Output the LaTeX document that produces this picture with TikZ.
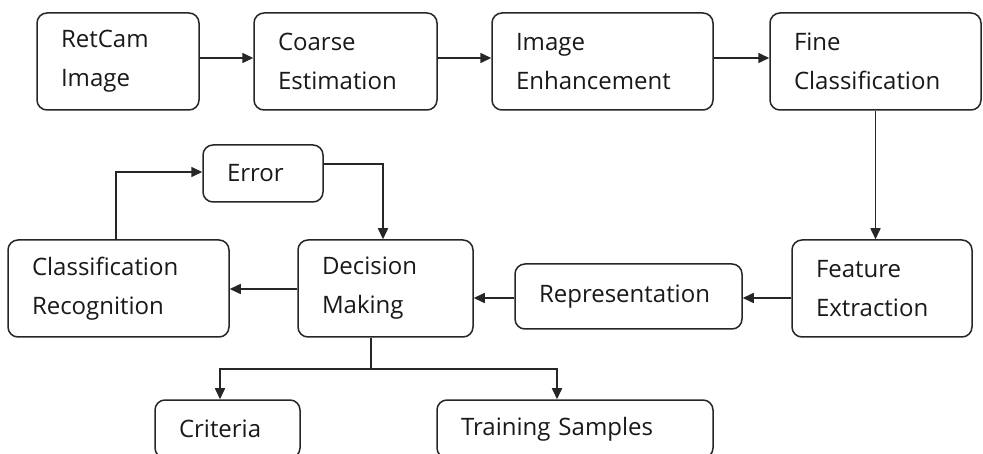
\documentclass[tikz,border=0pt]{standalone}
\usepackage{fontspec}
\setmainfont{Open Sans}
\usetikzlibrary{arrows.meta,calc}
\tikzset{
  box/.style={draw=black!85, line width=1.5pt, rounded corners=10pt, fill=white,
    inner xsep=24pt, inner ysep=0pt, align=left, anchor=center,
    font=\fontsize{24}{39}\selectfont, text=black!90},
  arr/.style={draw=black!85, line width=1.6pt, -{Triangle[length=11pt,width=10pt]}},
  ln/.style={draw=black!85, line width=1.6pt}
}
\begin{document}
\begin{tikzpicture}[x=1pt,y=-1pt]
\useasboundingbox (0,0) rectangle (983,454);
\clip (0,0) rectangle (983,454);
\fill[white] (0,0) rectangle (983,454);
% top row
\node[box, minimum width=162pt, minimum height=97pt, text width=114pt] (ret) at (118,61.5) {RetCam\\Image};
\node[box, minimum width=183pt, minimum height=97pt, text width=135pt] (coarse) at (345.5,61.5) {Coarse\\Estimation};
\node[box, minimum width=221pt, minimum height=97pt, text width=173pt] (enh) at (602.5,61.5) {Image\\Enhancement};
\node[box, minimum width=211pt, minimum height=97pt, text width=163pt] (fine) at (875.5,61.5) {Fine\\Classification};
% middle row
\node[box, minimum width=180pt, minimum height=97pt, text width=132pt] (feat) at (882,288.5) {Feature\\Extraction};
\node[box, minimum width=227pt, minimum height=65pt, text width=179pt] (repr) at (628.5,296.5) {Representation};
\node[box, minimum width=175pt, minimum height=97pt, text width=127pt] (dec) at (385.5,288.5) {Decision\\Making};
\node[box, minimum width=221pt, minimum height=97pt, text width=173pt] (cls) at (118.5,288.5) {Classification\\Recognition};
\node[box, minimum width=120pt, minimum height=57pt, text width=72pt] (err) at (263,173.5) {Error};
% bottom row
\node[box, minimum width=145pt, minimum height=58pt, text width=97pt] (crit) at (227.5,429) {Criteria};
\node[box, minimum width=276pt, minimum height=58pt, text width=228pt] (train) at (575,429) {Training Samples};
% connectors
\draw[arr] ([yshift=3.5pt]ret.east) -- ([yshift=3.5pt]coarse.west);
\draw[arr] ([yshift=3.5pt]coarse.east) -- ([yshift=3.5pt]enh.west);
\draw[arr] ([yshift=3.5pt]enh.east) -- ([yshift=3.5pt]fine.west);
\draw[arr] (fine.south) -- (fine.south |- feat.north);
\draw[arr] ([yshift=-1.5pt]repr.east -| feat.west) -- ([yshift=-1.5pt]repr.east);
\draw[arr] ([yshift=-1.5pt]repr.west) -- ([yshift=-1.5pt]repr.west -| dec.east);
\draw[arr] ([yshift=-0.5pt]dec.west) -- ([yshift=-0.5pt]cls.east);
\draw[arr] ([xshift=-2.5pt]cls.north) |- ([yshift=1.5pt]err.west);
\draw[arr] ([yshift=9.5pt]err.east) -| ([xshift=-2.5pt]dec.north);
\coordinate (split) at (371,369);
\draw[ln] (dec.south -| split) -- (split);
\draw[arr] (split) -| ([xshift=-7.5pt]crit.north);
\draw[arr] (split) -| ([xshift=-18pt]train.north);
\end{tikzpicture}
\end{document}
